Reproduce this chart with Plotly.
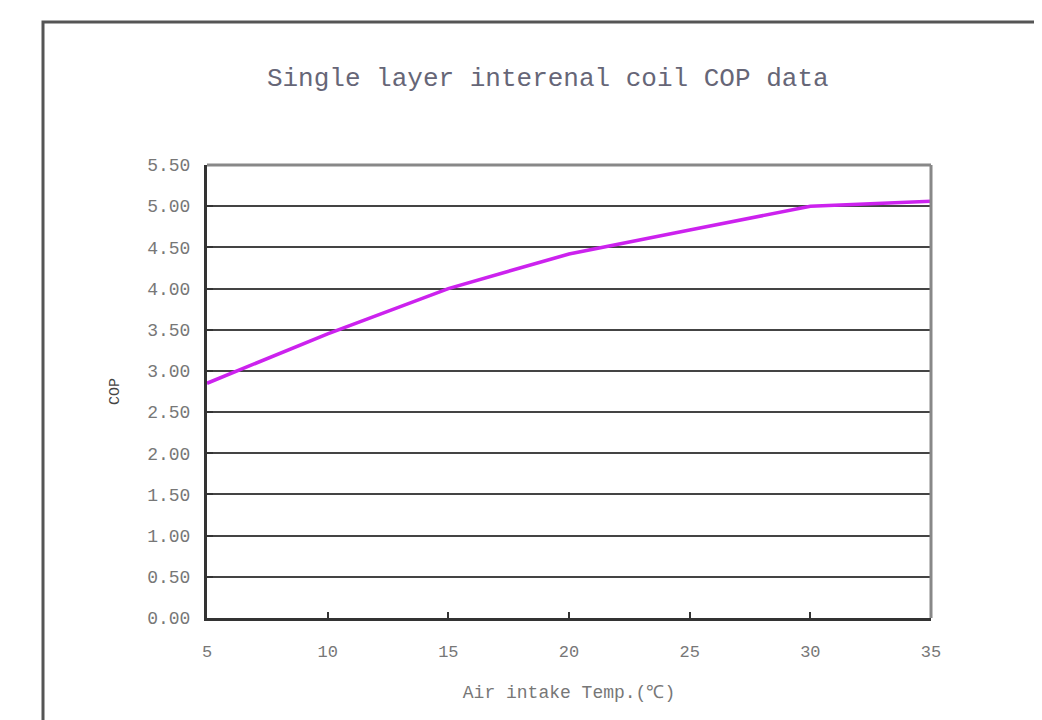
import plotly.graph_objects as go

temps = [5, 10, 15, 20, 25, 30, 35]
cop = [2.85, 3.45, 4.00, 4.42, 4.71, 5.00, 5.06]
y_ticks = [0, 0.5, 1.0, 1.5, 2.0, 2.5, 3.0, 3.5, 4.0, 4.5, 5.0, 5.5]
x_ticks = [5, 10, 15, 20, 25, 30, 35]

mono = "Liberation Mono, DejaVu Sans Mono, monospace"

# page body has an 8px margin; plot area target on screen: x 207-931, y 165-618
L, T, R, B = 199, 157, 119, 110
pw = 1042 - L - R
ph = 720 - T - B

fig = go.Figure()
fig.add_trace(go.Scatter(x=temps, y=cop, mode="lines",
                         line=dict(color="#cc22ee", width=3.5),
                         showlegend=False, hoverinfo="x+y"))

fig.update_layout(
    width=1042, height=720,
    margin=dict(l=L, r=R, t=T, b=B),
    paper_bgcolor="white", plot_bgcolor="white",
    title=dict(text="Single layer interenal coil COP data",
               font=dict(family=mono, size=26, color="#666677"),
               x=0.518, xanchor="center", y=0.904, yanchor="middle"),
    xaxis=dict(range=[5, 35], tickvals=x_ticks, ticks="inside", ticklen=6,
               tickcolor="#333", tickwidth=2,
               showgrid=False, zeroline=False,
               showline=True, linecolor="#333", linewidth=3, mirror=False,
               tickfont=dict(family=mono, size=17, color="#777"),
               ticklabelstandoff=16,
               title=dict(text="Air intake Temp.(℃)",
                          font=dict(family=mono, size=18, color="#777"),
                          standoff=24)),
    yaxis=dict(range=[0, 5.5], tickvals=y_ticks, tickformat=".2f",
               ticks="inside", ticklen=6, tickcolor="#333", tickwidth=2,
               showgrid=True, gridcolor="#444", gridwidth=2,
               zeroline=False,
               showline=True, linecolor="#333", linewidth=3,
               tickfont=dict(family=mono, size=18, color="#777"),
               ticklabelstandoff=10,
               title=dict(text="COP", font=dict(family=mono, size=15, color="#444"),
                          standoff=24)),
    shapes=[
        dict(type="line", xref="paper", yref="paper", x0=0, x1=1, y0=1, y1=1,
             line=dict(color="#888", width=3)),
        dict(type="line", xref="paper", yref="paper", x0=1, x1=1, y0=0, y1=1,
             line=dict(color="#888", width=3)),
        dict(type="rect", xref="paper", yref="paper",
             x0=(35 - L) / pw, x1=1.5, y0=-0.5, y1=(720 - B - 14) / ph,
             line=dict(color="#555", width=3), layer="below"),
    ],
)

fig.write_html("out.html")
